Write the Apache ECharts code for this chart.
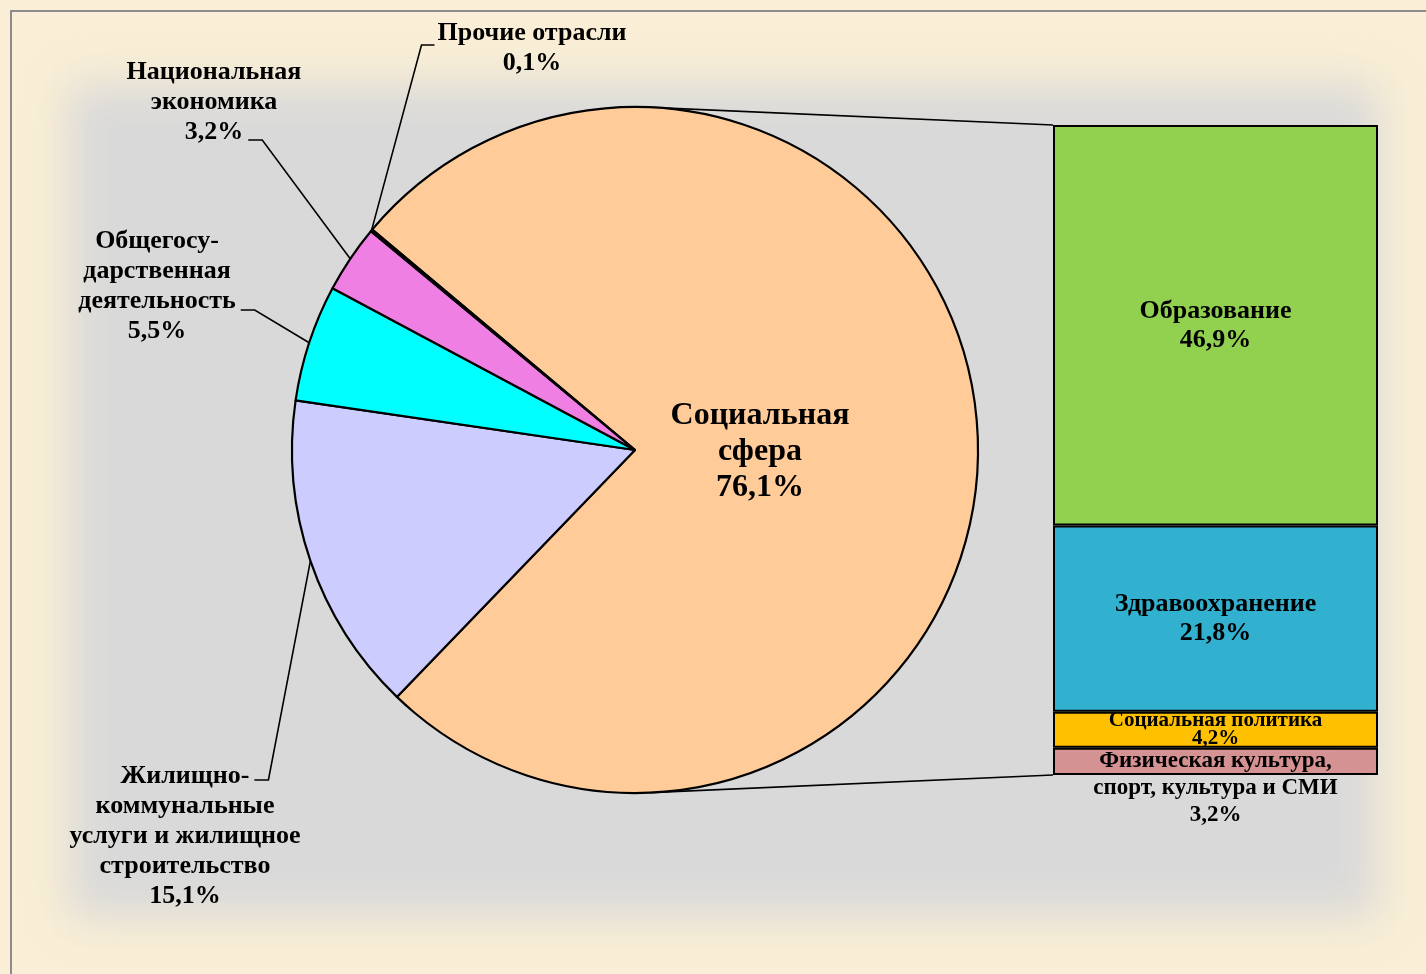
<!DOCTYPE html>
<html>
<head>
<meta charset="utf-8">
<script src="https://cdn.jsdelivr.net/npm/echarts@6/dist/echarts.min.js"></script>
<style>
html, body { margin: 0; padding: 0; width: 1426px; height: 974px; overflow: hidden; background: #faefd6; }
#frame { position: absolute; left: 10px; top: 10px; width: 1500px; height: 1100px; border-left: 2px solid #8c8c8c; border-top: 2px solid #8c8c8c; }
#shade { position: absolute; left: 68px; top: 84px; width: 1310px; height: 834px; background: #d9d9d9; filter: blur(22px); }
#main { position: absolute; left: 0; top: 0; width: 1426px; height: 974px; }
</style>
</head>
<body>
<div id="frame"></div>
<div id="shade"></div>
<div id="main"></div>
<script>
// доли расходов по отраслям, %
var pieLabels = ['Социальная\nсфера', 'Жилищно-\nкоммунальные\nуслуги и жилищное\nстроительство', 'Общегосу-\nдарственная\nдеятельность', 'Национальная\nэкономика', 'Прочие отрасли'];
var pieValues = [76.1, 15.1, 5.5, 3.2, 0.1];
var pieColors = ['#ffcc99', '#ccccff', '#00ffff', '#ef7fe3', '#c8955f'];

// расшифровка социальной сферы
var barLabels = ['Образование', 'Здравоохранение', 'Социальная политика', 'Физическая культура,\nспорт, культура и СМИ'];
var barValues = [46.9, 21.8, 4.2, 3.2];
var barColors = ['#92d050', '#31b0d0', '#ffc000', '#d49292'];

// подписи круга: центр блока текста и к какой строке цепляется выноска
var pieLabelPos = [[760, 452], [185, 836], [157, 286], [214, 102], [532, 48]];
var pieLabelHook = [null, { line: 0, dy: 4 }, { line: 2, dy: 9 }, { line: 2, dy: 8 }, { line: 0, dy: 12 }];
var pieCenter = [635, 450];
var pieRadius = 343;

function pct(v) { return v.toFixed(1).replace('.', ',') + '%'; }

var font = 'Liberation Serif';
var outFont = 26, outLine = 30;
var ctx = document.createElement('canvas').getContext('2d');
ctx.font = 'bold ' + outFont + 'px "' + font + '"';

var chart = echarts.init(document.getElementById('main'));

var barTotal = 0;
barValues.forEach(function (v) { barTotal += v; });

var option = {
    animation: false,
    backgroundColor: 'transparent',
    grid: { left: 1053, top: 125, width: 325, height: 650 },
    xAxis: { type: 'category', data: ['Социальная сфера'], show: false },
    yAxis: { type: 'value', min: 0, max: barTotal, inverse: true, show: false, splitLine: { show: false } },
    series: [{
        type: 'pie',
        center: pieCenter,
        radius: pieRadius,
        startAngle: 140,
        avoidLabelOverlap: false,
        emphasis: { disabled: true },
        itemStyle: { borderColor: '#000', borderWidth: 2.2 },
        label: {
            show: true,
            position: 'outside',
            fontFamily: font,
            fontWeight: 'bold',
            fontSize: outFont,
            lineHeight: outLine,
            color: '#000',
            formatter: function (p) { return pieLabels[p.dataIndex] + '\n' + pct(p.value); }
        },
        labelLine: { show: true, length: 20, length2: 14, lineStyle: { color: '#000', width: 1.6 } },
        labelLayout: function (p) {
            var pos = pieLabelPos[p.dataIndex];
            var res = { x: pos[0], y: pos[1], align: 'center', verticalAlign: 'middle' };
            var hook = pieLabelHook[p.dataIndex];
            if (hook && p.labelLinePoints) {
                var lines = (pieLabels[p.dataIndex] + '\n' + pct(pieValues[p.dataIndex])).split('\n');
                var top = pos[1] - lines.length * outLine / 2;
                var ay = top + hook.line * outLine + outLine / 2 + hook.dy;
                var half = ctx.measureText(lines[hook.line]).width / 2;
                var s = p.labelLinePoints[0];
                var toRight = s[0] > pos[0] + half;
                var ax = toRight ? pos[0] + half + 5 : pos[0] - half - 3;
                var bx = toRight ? ax + 14 : ax - 13;
                res.labelLinePoints = [s, [bx, ay], [ax, ay]];
            }
            return res;
        },
        data: pieValues.map(function (v, i) {
            var item = { value: v, name: pieLabels[i], itemStyle: { color: pieColors[i] } };
            if (i === 0) {
                item.label = { position: 'inside', fontSize: 32, lineHeight: 36 };
                item.labelLine = { show: false };
            }
            return item;
        })
    }].concat(barLabels.map(function (name, i) {
        var small = i >= 2;
        return {
            type: 'bar',
            name: name,
            stack: 'social',
            barWidth: '100%',
            data: [barValues[i]],
            itemStyle: { color: barColors[i], borderColor: '#000', borderWidth: 2 },
            label: {
                show: true,
                position: 'inside',
                offset: i === 3 ? [0, 27] : [0, 0],
                fontFamily: font,
                fontWeight: 'bold',
                fontSize: i === 2 ? 21 : (small ? 23 : 26),
                lineHeight: i === 2 ? 18 : (small ? 27 : 29),
                color: '#000',
                formatter: function (p) { return name + '\n' + pct(p.value); }
            }
        };
    }))
};
chart.setOption(option);

// соединительные линии: касательные к кругу от углов столбца
var rect = chart.getModel().getComponent('grid', 0).coordinateSystem.getRect();
function tangent(px, py, upper) {
    var dx = px - pieCenter[0], dy = py - pieCenter[1];
    var d = Math.sqrt(dx * dx + dy * dy);
    var th = Math.atan2(dy, dx);
    var a = Math.acos(pieRadius / d);
    var t = upper ? th - a : th + a;
    return [pieCenter[0] + pieRadius * Math.cos(t), pieCenter[1] + pieRadius * Math.sin(t)];
}
var tTop = tangent(rect.x, rect.y, true);
var tBot = tangent(rect.x, rect.y + rect.height, false);
chart.setOption({
    graphic: [
        { type: 'line', shape: { x1: tTop[0], y1: tTop[1], x2: rect.x, y2: rect.y }, style: { stroke: '#000', lineWidth: 1.6 } },
        { type: 'line', shape: { x1: tBot[0], y1: tBot[1], x2: rect.x, y2: rect.y + rect.height }, style: { stroke: '#000', lineWidth: 1.6 } }
    ]
});
</script>
</body>
</html>
